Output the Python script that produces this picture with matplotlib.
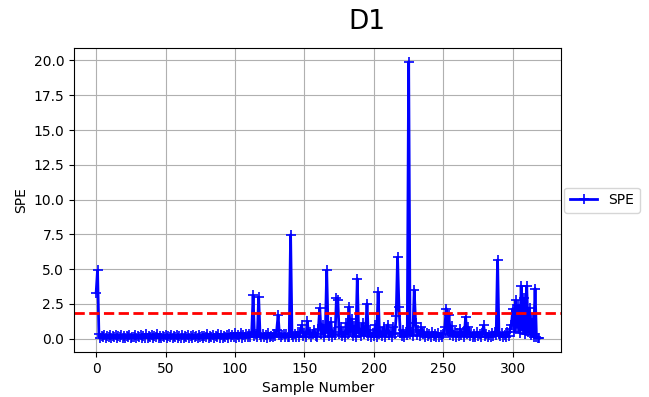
import matplotlib
matplotlib.use("Agg")
import matplotlib.pyplot as plt
import numpy as np

# SPE per sample
spe = [
    3.3, 4.9, 0.32, 0.05, 0.21, 0.08, 0.25, 0.03, 0.18, 0.12, 0.27, 0.04, 0.2, 0.09, 0.24, 0.02, 0.17, 0.11, 0.26, 0.06,
    0.22, 0.03, 0.19, 0.1, 0.28, 0.05, 0.15, 0.08, 0.23, 0.02, 0.2, 0.12, 0.25, 0.04, 0.18, 0.07, 0.3, 0.05, 0.21, 0.1,
    0.26, 0.03, 0.17, 0.09, 0.33, 0.06, 0.22, 0.04, 0.19, 0.11, 0.24, 0.02, 0.2, 0.08, 0.27, 0.05, 0.16, 0.1, 0.23, 0.03,
    0.21, 0.07, 0.29, 0.04, 0.18, 0.12, 0.25, 0.06, 0.2, 0.03, 0.24, 0.09, 0.17, 0.05, 0.28, 0.08, 0.22, 0.04, 0.19, 0.11,
    0.35, 0.05, 0.21, 0.09, 0.26, 0.03, 0.18, 0.12, 0.3, 0.06, 0.23, 0.04, 0.2, 0.1, 0.27, 0.05, 0.33, 0.08, 0.24, 0.12,
    0.38, 0.06, 0.29, 0.1, 0.42, 0.07, 0.25, 0.15, 0.36, 0.08, 0.3, 0.12, 0.45, 3.1, 0.2, 0.35, 0.1, 3.0, 0.28, 0.08,
    0.32, 0.12, 0.26, 0.05, 0.4, 0.15, 0.22, 0.08, 0.35, 0.2, 0.6, 1.67, 0.25, 0.1, 0.28, 0.35, 0.1, 0.3, 0.15, 0.12,
    7.46, 0.25, 0.1, 0.3, 0.15, 0.45, 0.12, 0.5, 0.95, 0.2, 0.4, 0.1, 1.25, 0.3, 0.5, 0.12, 0.35, 0.6, 0.2, 0.15,
    0.7, 2.2, 0.3, 1.0, 0.15, 0.4, 4.9, 0.5, 0.2, 1.2, 0.12, 0.5, 0.25, 2.9, 2.8, 0.3, 0.8, 0.2, 0.45, 0.12,
    1.1, 0.3, 2.27, 0.5, 1.4, 0.2, 0.9, 0.15, 4.3, 0.4, 0.7, 0.2, 1.1, 0.3, 0.5, 2.5, 0.2, 0.6, 0.12, 0.4,
    0.2, 1.0, 0.15, 3.36, 0.3, 0.5, 0.2, 0.8, 0.12, 0.4, 1.0, 0.25, 0.45, 0.15, 0.8, 0.3, 1.6, 5.85, 2.25, 0.4,
    0.2, 0.6, 0.15, 0.45, 0.25, 19.9, 0.3, 0.5, 0.2, 3.5, 1.1, 0.25, 0.6, 0.2, 0.8, 0.3, 0.5, 0.15, 0.4, 0.2,
    0.3, 0.12, 0.45, 0.2, 0.3, 0.1, 0.4, 0.15, 0.25, 0.12, 0.35, 0.8, 2.15, 0.4, 1.7, 0.25, 0.9, 0.2, 0.5, 0.15,
    0.4, 0.2, 0.7, 0.25, 0.45, 0.12, 1.55, 0.3, 0.8, 0.2, 0.4, 0.15, 0.3, 0.12, 0.45, 0.2, 0.3, 0.1, 0.4, 0.95,
    0.2, 0.35, 0.12, 0.25, 0.15, 0.4, 0.2, 0.5, 0.25, 5.65, 0.3, 0.2, 0.4, 0.12, 0.25, 0.15, 0.5, 0.2, 0.7, 1.0,
    2.15, 0.5, 2.75, 0.8, 2.4, 0.4, 3.77, 0.6, 2.9, 0.3, 3.77, 0.5, 2.2, 0.25, 1.4, 0.15, 3.6, 0.1, 0.05, 0.02,
]
threshold = 1.83
title = "D1"

fig = plt.figure(figsize=(6.49, 3.97), dpi=100)
ax = fig.add_axes([0.114, 0.113, 0.751, 0.766])

ax.plot(np.arange(len(spe)), spe, color="blue", marker="+", markersize=7,
        markeredgewidth=1.2, linewidth=2, label="SPE")
ax.axhline(threshold, color="red", linestyle="--", linewidth=2)
ax.grid(True)
ax.set_xlabel("Sample Number")
ax.set_ylabel("SPE")
ax.legend(loc="center left", bbox_to_anchor=(1.0, 0.5), borderaxespad=0.2)
fig.text(0.565, 0.945, title, fontsize=19, ha="center", va="center")

fig.savefig("out.png", dpi=100)
